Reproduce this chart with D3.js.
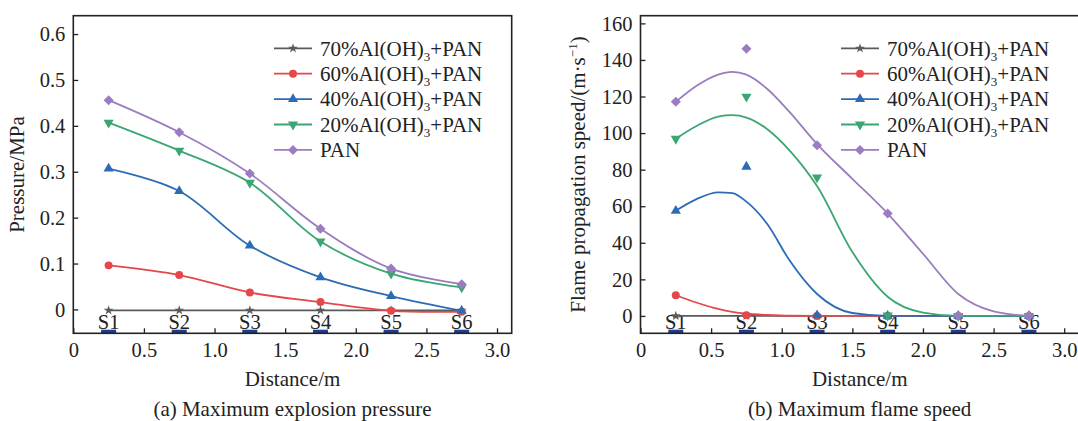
<!DOCTYPE html>
<html>
<head>
<meta charset="utf-8">
<script src="https://cdn.jsdelivr.net/npm/d3@7"></script>
<style>
  body { margin: 0; background: #fff; }
  svg { display: block; }
  svg text { font-family: "Liberation Serif", "Times New Roman", serif; }
</style>
</head>
<body>
<div id="chart"></div>
<script>

var FONT = "Liberation Serif, Times New Roman, serif";

// stations along the tube
var stations = ["S1", "S2", "S3", "S4", "S5", "S6"];
var distance = [0.25, 0.75, 1.25, 1.75, 2.25, 2.75];

// series (legend order)
var seriesPct = ["70", "60", "40", "20", null];
var seriesColor = ["#5a5a5a", "#e4484b", "#2c6cb6", "#3aa672", "#9b7cc0"];

// (a) maximum explosion pressure, MPa
var p70 = [-0.002, -0.002, -0.002, -0.002, -0.002, -0.002];
var p60 = [0.096, 0.075, 0.037, 0.016, -0.003, -0.005];
var p40 = [0.307, 0.258, 0.139, 0.070, 0.029, -0.003];
var p20 = [0.407, 0.346, 0.276, 0.148, 0.078, 0.048];
var pPAN = [0.456, 0.386, 0.296, 0.176, 0.089, 0.055];

// (b) maximum flame speed, m/s (measured points)
var v70 = [0, 0, 0, 0, 0, 0];
var v60 = [11.3, 0.4, 0, 0, 0, 0];
var v40 = [57.5, 81.6, 0.3, 0, 0, 0];
var v20 = [96.9, 119.9, 75.8, 0.2, 0, 0];
var vPAN = [117.1, 146.1, 93.3, 56.0, 0.2, 0];

// (b) fitted curves
var fitX = [0.25, 0.4, 0.55, 0.65, 0.75, 0.9, 1.05, 1.25, 1.5, 1.75, 2.0, 2.25, 2.5, 2.75];
var f70 = [0, 0, 0, 0, 0, 0, 0, 0, 0, 0, 0, 0, 0, 0];
var f60 = [11.3, 7.2, 3.8, 2.2, 1.2, 0.5, 0.1, 0, 0, 0, 0, 0, 0, 0];
var f40 = [57.5, 64, 67.6, 67.2, 62.5, 50, 31, 12, 1.6, 0, 0, 0, 0, 0];
var f20 = [96.9, 104, 109, 109.8, 108.5, 102, 91, 71, 35, 10.5, 1.8, 0, 0, 0];
var fPAN = [117.1, 126, 132, 133.5, 132, 124, 112, 94, 75, 56, 34, 12, 2.5, 0];

var pressureTicks = [0, 0.1, 0.2, 0.3, 0.4, 0.5, 0.6];
var speedTicks = [0, 20, 40, 60, 80, 100, 120, 140, 160];
var distTicks = [0, 0.5, 1.0, 1.5, 2.0, 2.5, 3.0];

var svg = d3.select("#chart").append("svg")
    .attr("width", 1078)
    .attr("height", 421);

var symbols = [
  d3.symbol().type(d3.symbolStar).size(30),
  d3.symbol().type(d3.symbolCircle).size(50),
  d3.symbol().type(d3.symbolTriangle).size(45),
  d3.symbol().type(d3.symbolTriangle).size(45),
  d3.symbol().type(d3.symbolSquare).size(50)
];
var symRot = [0, 0, 0, 180, 45];

function numFmt(d) { return d === 0 ? "0" : d3.format(".1f")(d); }

function label(g, size) {
  return g.append("text")
      .attr("font-family", FONT)
      .attr("font-size", size + "px")
      .attr("fill", "#222");
}

function drawPanel(o) {
  var x = d3.scaleLinear().domain([0, 3.104]).range([o.left, o.right]);
  var y = d3.scaleLinear().domain(o.yDomain).range([o.bottom, o.top]);

  var g = svg.append("g");

  // station labels and sensor marks
  stations.forEach(function(s, i) {
    label(g, 20.5)
        .attr("x", x(distance[i]))
        .attr("y", o.bottom - 4.8)
        .attr("text-anchor", "middle")
        .text(s);
  });

  g.selectAll(".sensor")
      .data(distance)
    .enter().append("rect")
      .attr("x", function(d) { return x(d) - 7.5; })
      .attr("y", o.bottom - 3.6)
      .attr("width", 15)
      .attr("height", 3.6)
      .attr("fill", "#1f3c8f");

  // curves
  var line = d3.line()
      .x(function(d) { return x(d[0]); })
      .y(function(d) { return y(d[1]); })
      .curve(o.curveType);

  o.curves.forEach(function(c, i) {
    g.append("path")
        .datum(c.x.map(function(v, k) { return [v, c.y[k]]; }))
        .attr("d", line)
        .attr("fill", "none")
        .attr("stroke", seriesColor[i])
        .attr("stroke-width", 1.8);
    g.selectAll(null)
        .data(o.points[i])
      .enter().append("path")
        .attr("d", symbols[i])
        .attr("transform", function(d, k) {
          return "translate(" + x(distance[k]) + "," + y(d) + ") rotate(" + symRot[i] + ")";
        })
        .attr("fill", seriesColor[i]);
  });

  // axes
  var xAxis = g.append("g")
      .attr("transform", "translate(0," + o.bottom + ")")
      .call(d3.axisBottom(x).tickValues(distTicks).tickFormat(numFmt)
            .tickSizeInner(-5).tickSizeOuter(0));
  xAxis.attr("font-family", FONT).attr("font-size", null);
  xAxis.select(".domain").remove();
  xAxis.selectAll("line").attr("stroke", "#222").attr("stroke-width", 1.3);
  xAxis.selectAll("text")
      .attr("y", 24).attr("dy", null)
      .attr("font-family", FONT)
      .attr("font-size", "20.5px").attr("fill", "#222");

  var yAxis = g.append("g")
      .attr("transform", "translate(" + o.left + ",0)")
      .call(d3.axisLeft(y).tickValues(o.yTicks).tickFormat(o.yFmt)
            .tickSizeInner(-5).tickSizeOuter(0));
  yAxis.attr("font-family", FONT).attr("font-size", null);
  yAxis.select(".domain").remove();
  yAxis.selectAll("line").attr("stroke", "#222").attr("stroke-width", 1.3);
  yAxis.selectAll("text")
      .attr("x", -8).attr("dy", "0.33em")
      .attr("font-family", FONT)
      .attr("font-size", "20.5px").attr("fill", "#222");

  g.append("rect")
      .attr("x", o.left)
      .attr("y", o.top)
      .attr("width", o.right - o.left)
      .attr("height", o.bottom - o.top)
      .attr("fill", "none")
      .attr("stroke", "#222")
      .attr("stroke-width", 1.6);

  // legend
  seriesPct.forEach(function(p, i) {
    var ly = 48.3 + i * 25.4;
    g.append("line")
        .attr("x1", o.legX).attr("x2", o.legX + 38)
        .attr("y1", ly).attr("y2", ly)
        .attr("stroke", seriesColor[i])
        .attr("stroke-width", 1.8);
    g.append("path")
        .attr("d", symbols[i])
        .attr("transform", "translate(" + (o.legX + 19) + "," + ly + ") rotate(" + symRot[i] + ")")
        .attr("fill", seriesColor[i]);
    var t = label(g, 21)
        .attr("x", o.legX + 46)
        .attr("y", ly + 7.2);
    if (p === null) {
      t.text("PAN");
    } else {
      t.append("tspan").text(p + "%Al(OH)");
      t.append("tspan").attr("font-size", "13px").attr("dy", 5).text("3");
      t.append("tspan").attr("dy", -5).text("+PAN");
    }
  });

  // titles
  var cx = (o.left + o.right) / 2;
  label(g, 21)
      .attr("x", cx).attr("y", 386)
      .attr("text-anchor", "middle")
      .text("Distance/m");
  label(g, 21)
      .attr("x", cx).attr("y", 416)
      .attr("text-anchor", "middle")
      .text(o.caption);

  var yt = label(g, 21)
      .attr("transform", "translate(" + o.yTitleX + ",174.5) rotate(-90)")
      .attr("text-anchor", "middle")
      .attr("dy", "0.35em");
  o.yTitle(yt);
}

drawPanel({
  left: 73.3, right: 511.7, top: 15.7, bottom: 333.3,
  yDomain: [-0.052, 0.64],
  yTicks: pressureTicks,
  yFmt: numFmt,
  legX: 274,
  yTitleX: 17,
  caption: "(a) Maximum explosion pressure",
  yTitle: function(t) { t.text("Pressure/MPa"); },
  curveType: d3.curveCatmullRom,
  points: [p70, p60, p40, p20, pPAN],
  curves: [p70, p60, p40, p20, pPAN].map(function(s) { return {x: distance, y: s}; })
});

drawPanel({
  left: 640.5, right: 1078.9, top: 15.7, bottom: 333.3,
  yDomain: [-9.5, 164.2],
  yTicks: speedTicks,
  yFmt: d3.format("d"),
  legX: 841,
  yTitleX: 578,
  caption: "(b) Maximum flame speed",
  yTitle: function(t) {
    t.append("tspan").text("Flame propagation speed/(m\u00b7s");
    t.append("tspan").attr("font-size", "13px").attr("dy", -8).text("\u22121");
    t.append("tspan").attr("dy", 8).text(")");
  },
  curveType: d3.curveMonotoneX,
  points: [v70, v60, v40, v20, vPAN],
  curves: [f70, f60, f40, f20, fPAN].map(function(s) { return {x: fitX, y: s}; })
});

</script>
</body>
</html>
